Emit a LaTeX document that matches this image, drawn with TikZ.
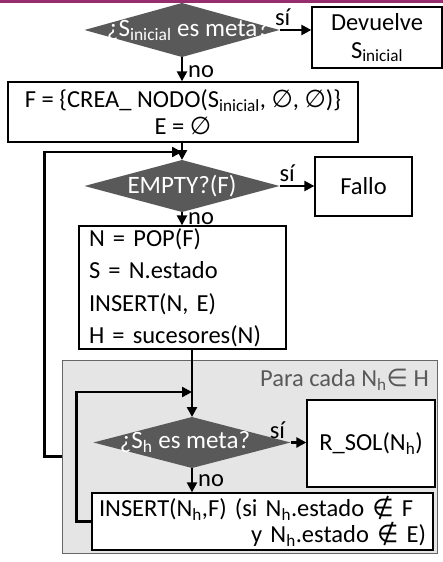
\documentclass[tikz,border=0pt]{standalone}
\usepackage{fontspec}
\setmainfont{Carlito}
\newfontfamily\simbolos{DejaVu Sans}
\usetikzlibrary{shapes.geometric, positioning, arrows.meta}

\newcommand{\vacio}{{\simbolos ∅}}
\newcommand{\noen}{{\simbolos ∉}}
\newcommand{\en}{{\simbolos ∈}}

\begin{document}
\begin{tikzpicture}[x=1pt, y=-1pt, >={Triangle[length=10pt,width=10pt]},
    every node/.style={font=\fontsize{24.5}{28}\selectfont},
    decision/.style={diamond, fill=black!65, inner sep=0pt, outer sep=0pt},
    dtexto/.style={text=white, font=\fontsize{25}{28}\selectfont},
    caja/.style={rectangle, draw, fill=white, line width=1.3pt, inner sep=0pt},
    flecha/.style={->, line width=2.4pt},
    linea/.style={line width=2.4pt},
    etiq/.style={inner sep=3pt}]
    \useasboundingbox (0,0) rectangle (443,562);
    \fill[color={rgb,255:red,150;green,45;blue,110}] (0,0) rectangle (443,2.5);

    % zona gris del bucle
    \node[rectangle, draw=black!60, fill=black!10, line width=0.9pt, minimum width=375pt, minimum height=193pt] (bucle) at (249.5,456.5) {};
    \node[anchor=east, text=black!65, inner sep=0pt] (paracada) at (429,380) {Para cada N\textsubscript{h}\en{} H};

    % nodos
    \node[decision, minimum width=195pt, minimum height=54pt,
          label={[dtexto, xshift=6pt]center:¿S\textsubscript{inicial} es meta?}] (meta1) at (182,30) {};
    \node[caja, minimum width=130pt, minimum height=61pt, align=center] (devuelve) at (377,37.5) {Devuelve\\S\textsubscript{inicial}};
    \node[caja, minimum width=350pt, minimum height=60pt, align=center,
          font=\fontsize{24.5}{27}\selectfont] (inicio) at (183,112) {F = \{CREA\_ NODO(S\textsubscript{inicial}, \vacio, \vacio)\}\\E = \vacio};
    \node[decision, minimum width=195pt, minimum height=52pt,
          label={[dtexto]center:EMPTY?(F)}] (vacia) at (182,186) {};
    \node[caja, minimum width=97pt, minimum height=59pt] (fallo) at (363.5,186.5) {Fallo};
    \node[caja, text width=187pt, inner xsep=10pt, minimum height=123pt, align=left,
          font=\fontsize{24.5}{32.5}\selectfont] (expande) at (182.5,287.5) {N = POP(F)\\S = N.estado\\INSERT(N, E)\\H = sucesores(N)};
    \node[decision, minimum width=197pt, minimum height=51pt,
          label={[dtexto, xshift=-7pt]center:¿S\textsubscript{h} es meta?}] (meta2) at (192,442.5) {};
    \node[caja, minimum width=128pt, minimum height=87pt] (rsol) at (371,443.5) {R\_SOL(N\textsubscript{h})};
    \node[caja, text width=327pt, inner xsep=7pt, minimum height=57pt, align=left,
          font=\fontsize{24.5}{26}\selectfont] (inserta) at (262.5,521.5) {INSERT(N\textsubscript{h},F) (si N\textsubscript{h}.estado \noen{} F\\\mbox{}\hfill y N\textsubscript{h}.estado \noen{} E)};

    \coordinate (j1) at (182,152);
    \coordinate (j2) at (192,392);

    % conexiones
    \draw[flecha] (meta1.east) -- (meta1.east -| devuelve.west) node[etiq, pos=0.1, above] {sí};
    \draw[flecha] (meta1.south) -- (meta1.south |- inicio.north) node[etiq, inner xsep=5pt, pos=0.6, right] {no};
    \draw[linea] (inicio.south -| j1) -- (j1);
    \draw[flecha] (j1) -- (vacia.north);
    \draw[flecha] (vacia.east) -- (vacia.east -| fallo.west) node[etiq, pos=0.22, above] {sí};
    \draw[flecha] (vacia.south) -- (vacia.south |- expande.north) node[etiq, inner xsep=5pt, midway, right] {no};
    \draw[linea] (expande.south -| j2) -- (j2);
    \draw[flecha] (j2) -- (meta2.north);
    \draw[flecha] (meta2.east) -- (meta2.east -| rsol.west) node[etiq, pos=0, above, xshift=-13pt] {sí};
    \draw[flecha] (meta2.south) -- (meta2.south |- inserta.north) node[etiq, inner xsep=5pt, midway, right] {no};
    % bucles de vuelta
    \draw[flecha] (inserta.west) -- ++(-15,0) |- (j2);
    \draw[flecha] (bucle.west) -- ++(-17,0) |- (j1);
\end{tikzpicture}
\end{document}
